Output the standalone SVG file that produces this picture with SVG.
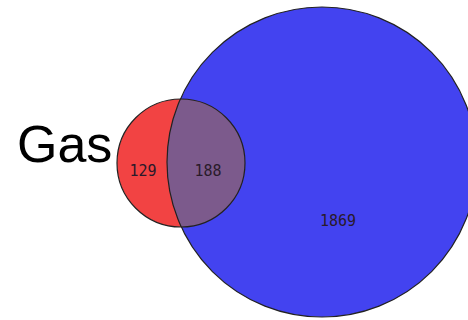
<svg xmlns="http://www.w3.org/2000/svg" width="468" height="320" viewBox="0 0 468 320">
  <style>
    .set { stroke: #222; stroke-width: 1.2; }
    .num { font-family: "DejaVu Sans Mono", "Liberation Mono", monospace; font-size: 15px; fill: #2a1a2a; text-anchor: middle; }
    .title { font-family: "Liberation Sans", Arial, sans-serif; font-size: 52px; fill: #000; }
  </style>
  <defs>
    <clipPath id="clipBlue">
      <circle cx="322" cy="162" r="155"/>
    </clipPath>
    <clipPath id="clipRed">
      <circle cx="181" cy="163" r="64"/>
    </clipPath>
  </defs>
  <rect width="468" height="320" fill="#ffffff"/>
  <g id="blue">
    <circle class="set" cx="322" cy="162" r="155" fill="#4343f0"/>
  </g>
  <g id="red">
    <circle cx="181" cy="163" r="64" fill="#f24343"/>
    <circle cx="181" cy="163" r="64" fill="#7c5a8c" clip-path="url(#clipBlue)"/>
    <circle cx="322" cy="162" r="155" fill="none" stroke="#222" stroke-width="1.2" clip-path="url(#clipRed)"/>
    <circle class="set" cx="181" cy="163" r="64" fill="none"/>
  </g>
  <g id="labels">
    <text class="title" x="17" y="162">Gas</text>
    <text class="num" x="143" y="176">129</text>
    <text class="num" x="208" y="176">188</text>
    <text class="num" x="338" y="226">1869</text>
  </g>
</svg>
